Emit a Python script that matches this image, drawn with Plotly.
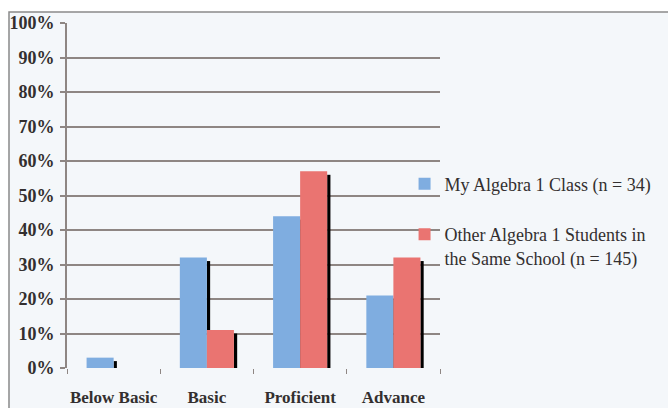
import plotly.graph_objects as go

categories = ["Below Basic", "Basic", "Proficient", "Advance"]
my_class = [3, 32, 44, 21]
other_students = [0, 11, 57, 32]
series_names = ["My Algebra 1 Class (n = 34)",
                "Other Algebra 1 Students in<br>the Same School (n = 145)"]
y_ticks = [0, 10, 20, 30, 40, 50, 60, 70, 80, 90, 100]
y_labels = [f"{v}%" for v in y_ticks]

BLUE = "#7fade0"
RED = "#ea7471"
BAR_W = 0.29
SHADOW_W = 0.035
SHADOW_DROP = 1.0

fig = go.Figure()

# drop shadows on the right edge of each bar, drawn underneath
for vals, off in ((my_class, 0.0), (other_students, BAR_W)):
    fig.add_trace(go.Bar(
        x=categories,
        y=[max(v - SHADOW_DROP, 0) for v in vals],
        width=SHADOW_W, offset=off,
        marker=dict(color="#000000", line=dict(width=0)),
        showlegend=False, hoverinfo="skip",
    ))

fig.add_trace(go.Bar(
    x=categories, y=my_class, name=series_names[0],
    width=BAR_W, offset=-BAR_W,
    marker=dict(color=BLUE, line=dict(width=0)),
    legendgroup="a",
))
fig.add_trace(go.Bar(
    x=categories, y=other_students, name=series_names[1],
    width=BAR_W, offset=0,
    marker=dict(color=RED, line=dict(width=0)),
    legendgroup="b",
))

GRID = "#8e8683"
TXT = "#332f2f"
FONT = "Liberation Serif"

fig.update_layout(
    width=668, height=408,
    barmode="overlay",
    paper_bgcolor="#ffffff",
    plot_bgcolor="rgba(0,0,0,0)",
    margin=dict(l=67, r=228, t=23, b=40, autoexpand=False),
    font=dict(family=FONT, color=TXT, size=15),
    xaxis=dict(
        type="category", range=[-0.5, 3.5],
        tickson="boundaries", ticks="outside", ticklen=5,
        tickcolor=GRID, tickwidth=1, tickangle=0, automargin=False,
        showgrid=False, showline=False, zeroline=False,
        tickfont=dict(family=FONT, size=17, color=TXT),
        ticklabelstandoff=17,
        tickprefix="<b>", ticksuffix="</b>",
    ),
    yaxis=dict(
        range=[0, 100], tickvals=y_ticks, automargin=False,
        ticktext=[f"<b>{t}</b>" for t in y_labels],
        ticks="outside", ticklen=5, tickcolor=GRID, tickwidth=2,
        showgrid=True, gridcolor=GRID, gridwidth=2,
        showline=True, linecolor=GRID, linewidth=2,
        zeroline=False, ticklabelstandoff=2,
        tickfont=dict(family=FONT, size=18, color=TXT),
    ),
    legend=dict(
        x=0.905, y=0.426, xanchor="left", yanchor="middle",
        bgcolor="rgba(0,0,0,0)", valign="top",
        font=dict(family=FONT, size=18, color=TXT),
        tracegroupgap=24, itemwidth=30,
    ),
    shapes=[
        # chart area background and outer frame
        dict(type="rect", xref="paper", yref="paper",
             x0=-0.1555, x1=1.8, y0=-0.3, y1=1.032,
             fillcolor="#f4f7fa", line=dict(color="#8a8a8a", width=1.5),
             layer="below"),
    ],
)

fig.write_html("out.html")
